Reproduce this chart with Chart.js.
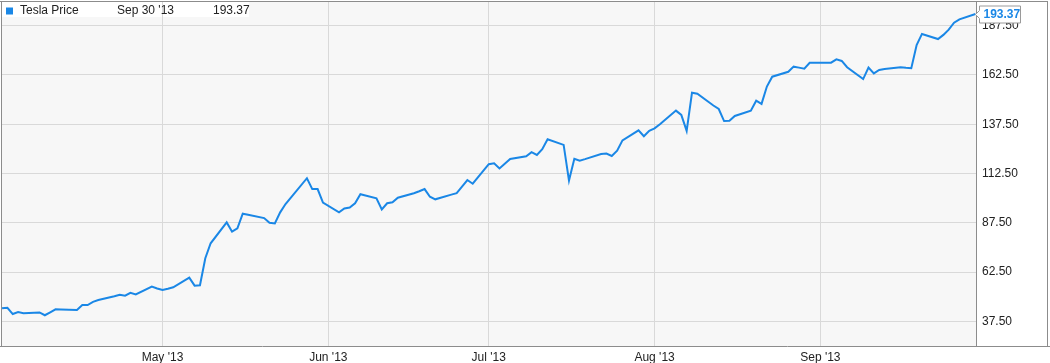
<!DOCTYPE html>
<html>
<head>
<meta charset="utf-8">
<script src="https://cdn.jsdelivr.net/npm/chart.js@4.4.0/dist/chart.umd.min.js"></script>
<style>
  html, body { margin: 0; padding: 0; background: #ffffff; }
  #wrap { width: 1050px; height: 363px; position: relative; }
</style>
</head>
<body>
<div id="wrap"><canvas id="c" width="1050" height="363"></canvas></div>
<script>
// ---- data (2013) ----
const seriesName = 'Tesla Price';
const lastDateLabel = "Sep 30 '13";
const dates = [
  '04-01','04-02','04-03','04-04','04-05','04-08','04-09','04-10','04-11','04-12',
  '04-15','04-16','04-17','04-18','04-19','04-22','04-23','04-24','04-25','04-26',
  '04-29','04-30','05-01','05-02','05-03','05-06','05-07','05-08','05-09','05-10',
  '05-13','05-14','05-15','05-16','05-17','05-20','05-21','05-22','05-23','05-24',
  '05-28','05-29','05-30','05-31','06-03','06-04','06-05','06-06','06-07','06-10',
  '06-11','06-12','06-13','06-14','06-17','06-18','06-19','06-20','06-21','06-24',
  '06-25','06-26','06-27','06-28','07-01','07-02','07-03','07-05','07-08','07-09',
  '07-10','07-11','07-12','07-15','07-16','07-17','07-18','07-19','07-22','07-23',
  '07-24','07-25','07-26','07-29','07-30','07-31','08-01','08-02','08-05','08-06',
  '08-07','08-08','08-09','08-12','08-13','08-14','08-15','08-16','08-19','08-20',
  '08-21','08-22','08-23','08-26','08-27','08-28','08-29','08-30','09-03','09-04',
  '09-05','09-06','09-09','09-10','09-11','09-12','09-13','09-16','09-17','09-18',
  '09-19','09-20','09-23','09-24','09-25','09-26','09-27','09-30'
];
const prices = [
  44.1, 44.4, 41.2, 42.2, 41.6, 42.0, 40.6, 42.1, 43.6, 43.5,
  43.3, 45.8, 45.8, 47.4, 48.3, 50.2, 51.0, 50.5, 52.0, 51.2,
  55.1, 54.2, 53.4, 54.0, 54.8, 59.7, 55.6, 55.8, 69.5, 77.1,
  87.7, 83.0, 84.7, 92.1, 91.6, 89.9, 87.5, 87.2, 92.8, 97.0,
  110.1, 104.6, 104.6, 97.7, 92.8, 94.8, 95.2, 97.4, 102.0, 99.9,
  94.3, 97.4, 97.9, 100.2, 102.5, 103.5, 104.6, 100.7, 99.4, 101.8,
  102.5, 105.8, 109.2, 107.3, 117.2, 117.7, 115.1, 119.9, 121.2, 123.3,
  121.9, 124.8, 129.9, 127.0, 108.9, 120.0, 119.0, 119.8, 122.4, 122.6,
  121.4, 124.1, 129.3, 134.4, 131.4, 134.2, 135.4, 137.5, 144.4, 142.2,
  134.1, 153.5, 153.0, 147.0, 145.2, 139.1, 139.3, 141.7, 144.4, 149.4,
  147.8, 156.6, 161.6, 164.1, 166.7, 166.2, 165.7, 168.7, 168.7, 170.4,
  169.6, 166.4, 160.4, 166.2, 163.3, 165.0, 165.5, 166.4, 166.1, 165.9,
  177.7, 183.3, 180.7, 182.8, 185.5, 189.0, 190.7, 193.37
];
const xRange = ['04-01', '09-30'];
const xTickDates = ['05-01', '06-01', '07-01', '08-01', '09-01'];
const xTickLabels = ["May '13", "Jun '13", "Jul '13", "Aug '13", "Sep '13"];
const yTicks = [37.5, 62.5, 87.5, 112.5, 137.5, 162.5, 187.5];
const yRange = [25, 200];

// ---- helpers ----
const BASE = Date.UTC(2013, 3, 1);
function toDay(md) {
  const [m, d] = md.split('-').map(Number);
  return (Date.UTC(2013, m - 1, d) - BASE) / 86400000;
}
const points = dates.map((d, i) => ({ x: toDay(d), y: prices[i] }));

const LINE = '#1a87e6';
const GRID = '#d9d9d9';
const FRAME = '#8c8c8c';
const FONT = '"Liberation Sans", Arial, Helvetica, sans-serif';

const bgPlugin = {
  id: 'bg',
  beforeDraw(chart) {
    const { ctx, chartArea: a } = chart;
    ctx.save();
    ctx.fillStyle = '#ffffff';
    ctx.fillRect(0, 0, chart.width, chart.height);
    ctx.fillStyle = '#f7f7f7';
    ctx.fillRect(a.left, a.top, a.right - a.left, a.bottom - a.top);
    ctx.fillStyle = '#ffffff';
    ctx.fillRect(2, 2, 247, 15);
    ctx.restore();
  }
};

const overlayPlugin = {
  id: 'overlay',
  afterDraw(chart) {
    const { ctx, chartArea: a } = chart;
    ctx.save();
    // frame
    ctx.strokeStyle = FRAME;
    ctx.lineWidth = 1;
    ctx.beginPath();
    ctx.moveTo(0, 1.5); ctx.lineTo(1048, 1.5);
    ctx.moveTo(0, Math.round(a.bottom) + 0.5); ctx.lineTo(chart.width, Math.round(a.bottom) + 0.5);
    ctx.moveTo(1.5, 1); ctx.lineTo(1.5, a.bottom);
    ctx.moveTo(Math.round(a.right) + 0.5, 1); ctx.lineTo(Math.round(a.right) + 0.5, a.bottom);
    ctx.moveTo(1047.5, 1); ctx.lineTo(1047.5, a.bottom);
    ctx.stroke();

    // legend
    ctx.fillStyle = LINE;
    ctx.fillRect(6, 7.5, 7, 7);
    ctx.fillStyle = '#222222';
    ctx.font = '12px ' + FONT;
    ctx.textBaseline = 'middle';
    ctx.textAlign = 'left';
    ctx.fillText(seriesName, 20, 11);
    ctx.fillText(lastDateLabel, 117, 11);
    ctx.fillText(prices[prices.length - 1].toFixed(2), 213, 11);

    // last value tag
    const meta = chart.getDatasetMeta(0);
    const last = meta.data[meta.data.length - 1];
    const tx = Math.round(last.x) + 0.5, ty = Math.round(last.y) + 0.5;
    const bl = tx + 4, br = tx + 45, bt = ty - 8.5, bb = ty + 8.5;
    ctx.beginPath();
    ctx.moveTo(tx, ty);
    ctx.lineTo(bl, ty - 4);
    ctx.lineTo(bl, bt);
    ctx.lineTo(br, bt);
    ctx.lineTo(br, bb);
    ctx.lineTo(bl, bb);
    ctx.lineTo(bl, ty + 4);
    ctx.closePath();
    ctx.fillStyle = '#ffffff';
    ctx.fill();
    ctx.strokeStyle = '#9a9a9a';
    ctx.stroke();
    ctx.fillStyle = LINE;
    ctx.font = 'bold 12px ' + FONT;
    ctx.fillText(prices[prices.length - 1].toFixed(2), bl + 4, ty + 0.5);
    ctx.restore();
  }
};

new Chart(document.getElementById('c'), {
  type: 'line',
  data: {
    datasets: [{
      label: seriesName,
      data: points,
      borderColor: LINE,
      borderWidth: 2,
      pointRadius: 0,
      tension: 0,
      fill: false,
      clip: false
    }]
  },
  options: {
    responsive: false,
    animation: false,
    devicePixelRatio: 1,
    layout: { padding: { left: 1, top: 1, right: 0, bottom: 0 } },
    plugins: { legend: { display: false }, tooltip: { enabled: false } },
    scales: {
      x: {
        type: 'linear',
        min: toDay(xRange[0]) - 0.2,
        max: toDay(xRange[1]) + 0.1,
        afterBuildTicks(s) { s.ticks = xTickDates.map(d => ({ value: toDay(d) })); },
        afterFit(s) { s.height = 17; s.paddingLeft = 0; s.paddingRight = 0; },
        ticks: {
          autoSkip: false, maxRotation: 0, padding: 4,
          color: '#222222', font: { family: FONT, size: 12 },
          callback(v, i) { return xTickLabels[i]; }
        },
        grid: { color: GRID, drawTicks: false },
        border: { display: false }
      },
      y: {
        position: 'right',
        min: yRange[0],
        max: yRange[1],
        afterBuildTicks(s) { s.ticks = yTicks.map(v => ({ value: v })); },
        afterFit(s) { s.width = 74; s.paddingTop = 0; s.paddingBottom = 0; },
        ticks: {
          padding: 6,
          color: '#222222', font: { family: FONT, size: 12 },
          callback(v) { return Number(v).toFixed(2); }
        },
        grid: { color: GRID, drawTicks: false },
        border: { display: false }
      }
    }
  },
  plugins: [bgPlugin, overlayPlugin]
});
</script>
</body>
</html>
